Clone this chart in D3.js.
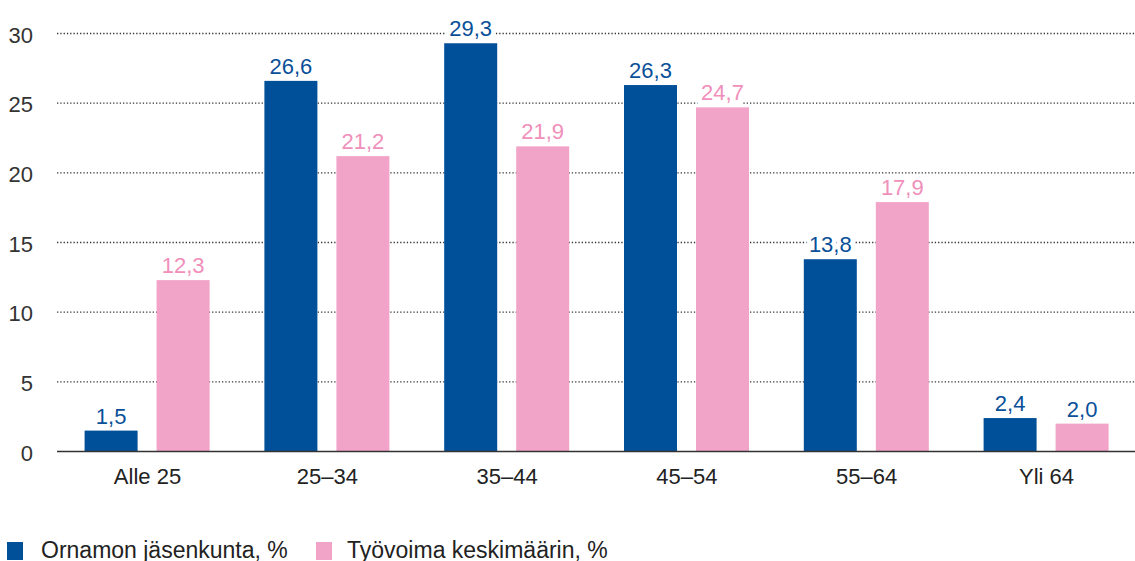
<!DOCTYPE html>
<html><head><meta charset="utf-8">
<script src="https://cdn.jsdelivr.net/npm/d3@7"></script>
<style>
body{margin:0;background:#fff;}
text{font-family:"Liberation Sans",Arial,sans-serif;}
</style></head>
<body><svg id="c" width="1135" height="561"></svg>
<script>
const categories = ["Alle 25","25–34","35–44","45–54","55–64","Yli 64"];
const seriesNames = ["Ornamon jäsenkunta, %","Työvoima keskimäärin, %"];
const ornamo = [1.5,26.6,29.3,26.3,13.8,2.4];
const tyovoima = [12.3,21.2,21.9,24.7,17.9,2.0];
const yTicks = [0,5,10,15,20,25,30];
const colors = ["#004f99","#f2a3c8"];
const labelColors = ["#0a5099","#f08fba"];

const svg = d3.select("#c");
const x = d3.scaleBand().domain(categories).range([57.6,1136.4]);
const x1 = d3.scaleBand().domain([0,1]).range([27,152]).paddingInner(0.264);
const y = d3.scaleLinear().domain([0,30]).range([451.5,33.5]);

// grid
svg.append("g").selectAll("line").data(yTicks.filter(d=>d>0)).join("line")
  .attr("x1",57).attr("x2",1135).attr("y1",d=>y(d)).attr("y2",d=>y(d))
  .attr("stroke","#333").attr("stroke-width",1.3).attr("stroke-dasharray","1.3,2");
// y labels
svg.append("g").selectAll("text").data(yTicks).join("text")
  .attr("x",33).attr("y",d=>y(d)).attr("dy","0.42em").attr("text-anchor","end")
  .attr("font-size",22).attr("fill","#333").text(d=>d);

const data = [ornamo,tyovoima];
const labelLayer = svg.append("g");
const barLayer = svg.append("g");
data.forEach((vals,si)=>{
  barLayer.append("g").selectAll("rect").data(vals).join("rect")
    .attr("x",(d,i)=>x(categories[i])+x1(si)).attr("width",x1.bandwidth())
    .attr("y",d=>y(d)).attr("height",d=>y(0)-y(d)).attr("fill",colors[si]);
  labelLayer.append("g").selectAll("text").data(vals).join("text")
    .attr("x",(d,i)=>x(categories[i])+x1(si)+x1.bandwidth()/2)
    .attr("y",d=>y(d)-7).attr("text-anchor","middle").attr("font-size",22)
    .attr("stroke","#fff").attr("stroke-width",9).attr("paint-order","stroke")
    .attr("fill",(d,i)=> (si===1 && i===categories.length-1) ? labelColors[0] : labelColors[si])
    .text(d=>d.toFixed(1).replace(".",","));
});
// baseline
svg.append("line").attr("x1",57).attr("x2",1135).attr("y1",y(0)).attr("y2",y(0))
  .attr("stroke","#333").attr("stroke-width",1.5);
// x labels
svg.append("g").selectAll("text").data(categories).join("text")
  .attr("x",d=>x(d)+x.bandwidth()/2).attr("y",483.5).attr("text-anchor","middle")
  .attr("font-size",22).attr("fill","#222").text(d=>d);
// legend
const leg = [[7,41],[316,347]];
seriesNames.forEach((n,i)=>{
  svg.append("rect").attr("x",leg[i][0]).attr("y",542).attr("width",16).attr("height",18).attr("fill",colors[i]);
  svg.append("text").attr("x",leg[i][1]).attr("y",557.5).attr("font-size",23).attr("fill","#222").text(n);
});
</script></body></html>
